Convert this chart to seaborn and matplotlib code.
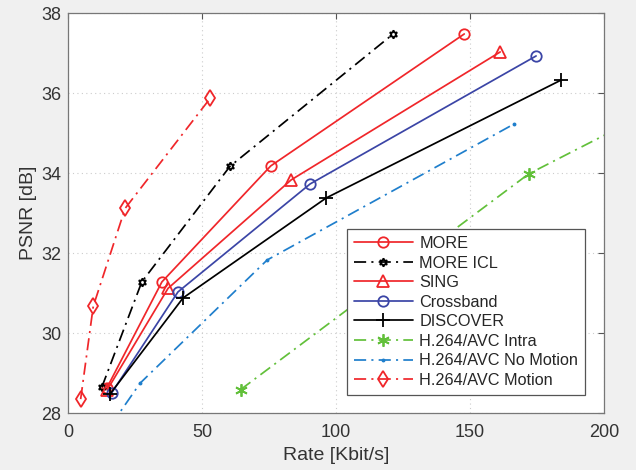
import numpy as np
import pandas as pd
import matplotlib
matplotlib.use('Agg')
import matplotlib.pyplot as plt
import seaborn as sns

# rate (Kbit/s) and PSNR (dB)
more_rate = [14.4, 35.0, 75.6, 147.8]
more_psnr = [28.62, 31.28, 34.18, 37.48]
icl_rate = [12.6, 27.5, 60.4, 121.3]
icl_psnr = [28.65, 31.28, 34.17, 37.48]
sing_rate = [14.6, 37.3, 83.2, 161.2]
sing_psnr = [28.58, 31.12, 33.83, 37.03]
cross_rate = [16.3, 41.0, 90.3, 174.6]
cross_psnr = [28.51, 31.03, 33.73, 36.93]
disc_rate = [15.7, 42.9, 96.3, 184.0]
disc_psnr = [28.48, 30.88, 33.38, 36.33]
intra_rate = [64.4, 171.8, 260.0]
intra_psnr = [28.59, 33.98, 37.0]
nomo_rate = [16.0, 26.9, 74.3, 166.4]
nomo_psnr = [27.7, 28.75, 31.83, 35.23]
mot_rate = [4.7, 9.4, 21.3, 53.0]
mot_psnr = [28.35, 30.67, 33.12, 35.87]

red = '#f0262a'
blue = '#3b45a6'
green = '#62c03a'
lblue = '#1f7fcc'
dashdot = (0, (7, 3, 1.2, 3))
star6 = (6, 1, 0)
aster = (6, 2, 0)

series = [
    ('MORE', more_rate, more_psnr, red, '-', 'o', 7.5),
    ('MORE ICL', icl_rate, icl_psnr, 'black', dashdot, star6, 6),
    ('SING', sing_rate, sing_psnr, red, '-', '^', 8),
    ('Crossband', cross_rate, cross_psnr, blue, '-', 'o', 7.5),
    ('DISCOVER', disc_rate, disc_psnr, 'black', '-', '+', 9.5),
    ('H.264/AVC Intra', intra_rate, intra_psnr, green, dashdot, aster, 9),
    ('H.264/AVC No Motion', nomo_rate, nomo_psnr, lblue, dashdot, '.', 3),
    ('H.264/AVC Motion', mot_rate, mot_psnr, red, dashdot, 'd', 8),
]

sns.set_style('white')
plt.rcParams['font.family'] = ['Liberation Sans', 'DejaVu Sans']

fig = plt.figure(figsize=(6.36, 4.70), dpi=100)
fig.patch.set_facecolor('#f0f0f0')
ax = fig.add_axes([0.107, 0.121, 0.843, 0.851])

for name, x, y, c, ls, mk, ms in series:
    df = pd.DataFrame({'rate': x, 'psnr': y})
    sns.lineplot(data=df, x='rate', y='psnr', ax=ax, sort=False, color=c,
                 linestyle=ls, marker=mk, markersize=ms, markerfacecolor='none',
                 markeredgecolor=c, markeredgewidth=1.3, linewidth=1.25,
                 label=name)

ax.set_xlim(0, 200)
ax.set_ylim(28, 38)
ax.set_xticks([0, 50, 100, 150, 200])
ax.set_yticks([28, 30, 32, 34, 36, 38])
ax.grid(True, linestyle=(0, (1, 3)), color='#cccccc', linewidth=0.8)
ax.tick_params(direction='in', top=True, right=True, length=4, width=0.8,
               color='#555555', labelsize=13, labelcolor='#333333', pad=5)
ax.tick_params(axis='x', pad=8)
for s in ax.spines.values():
    s.set_color('#777777')
    s.set_linewidth(0.9)
ax.set_xlabel('Rate [Kbit/s]', fontsize=14, color='#333333', labelpad=4)
ax.set_ylabel('PSNR [dB]', fontsize=14, color='#333333', labelpad=3)

leg = ax.legend(loc='lower right', bbox_to_anchor=(0.965, 0.045), fontsize=11.7,
                frameon=True, fancybox=False, framealpha=1, edgecolor='#555555',
                handlelength=3.6, labelspacing=0.28, borderpad=0.45,
                handletextpad=0.4, borderaxespad=0)
leg.get_frame().set_linewidth(0.9)

fig.savefig('out.png', dpi=100, facecolor=fig.get_facecolor())
